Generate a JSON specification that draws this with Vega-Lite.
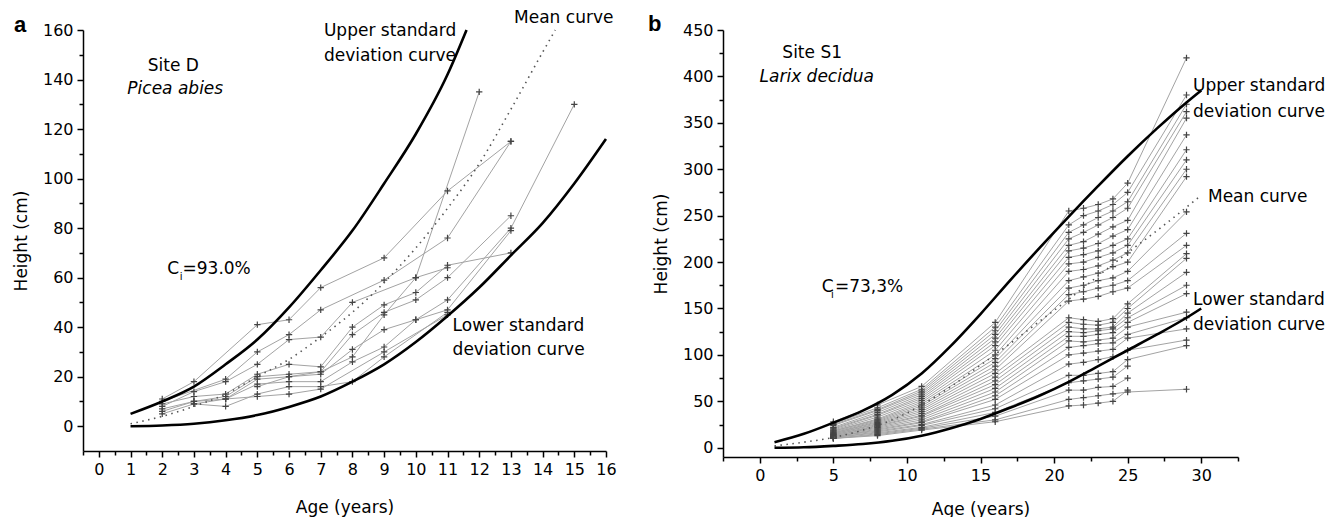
{
  "$schema": "https://vega.github.io/schema/vega-lite/v6.json",
  "background": "white",
  "padding": {"left": 12, "top": 9, "right": 0, "bottom": 0},
  "bounds": "flush",
  "spacing": 117,
  "config": {
    "view": {"stroke": null},
    "font": "DejaVu Sans",
    "axis": {
      "grid": false,
      "domainColor": "black",
      "domainWidth": 1.5,
      "tickColor": "black",
      "tickWidth": 1.5,
      "labelColor": "black",
      "titleColor": "black",
      "labelFont": "DejaVu Sans",
      "titleFont": "DejaVu Sans",
      "labelFontSize": 16,
      "titleFontSize": 17,
      "titleFontWeight": "normal",
      "labelOverlap": false,
      "labelFlush": false,
      "labelBound": false,
      "tickCount": 100
    }
  },
  "datasets": {
    "leftTrees": [
      {"t":"A","a":2,"h":11},{"t":"A","a":3,"h":18},{"t":"A","a":5,"h":41},{"t":"A","a":6,"h":43},{"t":"A","a":7,"h":56},{"t":"A","a":9,"h":68},{"t":"A","a":11,"h":95},{"t":"A","a":13,"h":115},
      {"t":"B","a":2,"h":10},{"t":"B","a":4,"h":19},{"t":"B","a":5,"h":30},{"t":"B","a":6,"h":37},{"t":"B","a":7,"h":47},{"t":"B","a":9,"h":59},{"t":"B","a":11,"h":76},{"t":"B","a":13,"h":115},
      {"t":"C","a":2,"h":8},{"t":"C","a":3,"h":14},{"t":"C","a":4,"h":18},{"t":"C","a":5,"h":25},{"t":"C","a":6,"h":35},{"t":"C","a":7,"h":36},{"t":"C","a":8,"h":50},{"t":"C","a":10,"h":60},{"t":"C","a":12,"h":135},
      {"t":"D","a":2,"h":9},{"t":"D","a":3,"h":12},{"t":"D","a":4,"h":13},{"t":"D","a":5,"h":21},{"t":"D","a":6,"h":25},{"t":"D","a":7,"h":24},{"t":"D","a":8,"h":40},{"t":"D","a":9,"h":49},{"t":"D","a":10,"h":54},{"t":"D","a":11,"h":65},{"t":"D","a":13,"h":70},
      {"t":"E","a":2,"h":7},{"t":"E","a":3,"h":10},{"t":"E","a":4,"h":12},{"t":"E","a":5,"h":20},{"t":"E","a":6,"h":21},{"t":"E","a":7,"h":22},{"t":"E","a":8,"h":37},{"t":"E","a":9,"h":46},{"t":"E","a":10,"h":51},{"t":"E","a":11,"h":60},{"t":"E","a":13,"h":85},
      {"t":"F","a":2,"h":6},{"t":"F","a":3,"h":10},{"t":"F","a":4,"h":11},{"t":"F","a":5,"h":19},{"t":"F","a":6,"h":20},{"t":"F","a":7,"h":21},{"t":"F","a":8,"h":31},{"t":"F","a":9,"h":39},{"t":"F","a":10,"h":43},{"t":"F","a":11,"h":51},{"t":"F","a":13,"h":80},{"t":"F","a":15,"h":130},
      {"t":"G","a":2,"h":5},{"t":"G","a":3,"h":9},{"t":"G","a":4,"h":11},{"t":"G","a":5,"h":17},{"t":"G","a":6,"h":18},{"t":"G","a":7,"h":18},{"t":"G","a":8,"h":26},{"t":"G","a":9,"h":32},{"t":"G","a":10,"h":43},{"t":"G","a":11,"h":47},{"t":"G","a":13,"h":79},
      {"t":"H","a":3,"h":9},{"t":"H","a":4,"h":8},{"t":"H","a":5,"h":13},{"t":"H","a":6,"h":16},{"t":"H","a":7,"h":16},{"t":"H","a":8,"h":18},{"t":"H","a":9,"h":28},{"t":"H","a":11,"h":46},
      {"t":"I","a":4,"h":11},{"t":"I","a":5,"h":12},{"t":"I","a":6,"h":13},{"t":"I","a":7,"h":15},{"t":"I","a":9,"h":30},{"t":"I","a":11,"h":45},
      {"t":"J","a":5,"h":16},{"t":"J","a":6,"h":20},{"t":"J","a":7,"h":22},{"t":"J","a":8,"h":28},{"t":"J","a":9,"h":45},{"t":"J","a":10,"h":60},{"t":"J","a":11,"h":64}
    ],
    "leftSD": [
      {"c":"u","a":1,"h":5},{"c":"u","a":2,"h":10},{"c":"u","a":3,"h":16},{"c":"u","a":4,"h":25},{"c":"u","a":5,"h":35},{"c":"u","a":6,"h":48},{"c":"u","a":7,"h":63},{"c":"u","a":8,"h":79},{"c":"u","a":9,"h":98},{"c":"u","a":10,"h":118},{"c":"u","a":11,"h":142},{"c":"u","a":11.6,"h":160},
      {"c":"l","a":1,"h":0},{"c":"l","a":2,"h":0.3},{"c":"l","a":3,"h":1},{"c":"l","a":4,"h":2.4},{"c":"l","a":5,"h":4.5},{"c":"l","a":6,"h":7.8},{"c":"l","a":7,"h":12},{"c":"l","a":8,"h":18},{"c":"l","a":9,"h":25},{"c":"l","a":10,"h":34},{"c":"l","a":11,"h":44.5},{"c":"l","a":12,"h":56},{"c":"l","a":13,"h":69},{"c":"l","a":14,"h":82},{"c":"l","a":15,"h":98},{"c":"l","a":16,"h":116}
    ],
    "leftMean": [
      {"a":1,"h":1},{"a":2,"h":4},{"a":3,"h":8},{"a":4,"h":13},{"a":5,"h":20},{"a":6,"h":27},{"a":7,"h":36},{"a":8,"h":46},{"a":9,"h":58},{"a":10,"h":72},{"a":11,"h":88},{"a":12,"h":106},{"a":13,"h":128},{"a":14,"h":151},{"a":14.4,"h":160}
    ],
    "rightTrees": [
      {"t":1,"a":5,"h":28},{"t":1,"a":8,"h":46},{"t":1,"a":11,"h":66},{"t":1,"a":16,"h":135},{"t":1,"a":21,"h":255},{"t":1,"a":22,"h":258},{"t":1,"a":23,"h":262},{"t":1,"a":24,"h":268},{"t":1,"a":25,"h":285},{"t":1,"a":29,"h":420},
      {"t":2,"a":5,"h":26},{"t":2,"a":8,"h":43},{"t":2,"a":11,"h":63},{"t":2,"a":16,"h":130},{"t":2,"a":21,"h":240},{"t":2,"a":22,"h":250},{"t":2,"a":23,"h":255},{"t":2,"a":24,"h":262},{"t":2,"a":25,"h":275},{"t":2,"a":29,"h":380},
      {"t":3,"a":5,"h":25},{"t":3,"a":8,"h":41},{"t":3,"a":11,"h":61},{"t":3,"a":16,"h":126},{"t":3,"a":21,"h":232},{"t":3,"a":22,"h":240},{"t":3,"a":23,"h":248},{"t":3,"a":24,"h":255},{"t":3,"a":25,"h":265},{"t":3,"a":29,"h":370},
      {"t":4,"a":5,"h":24},{"t":4,"a":8,"h":40},{"t":4,"a":11,"h":59},{"t":4,"a":16,"h":122},{"t":4,"a":21,"h":225},{"t":4,"a":22,"h":232},{"t":4,"a":23,"h":240},{"t":4,"a":24,"h":248},{"t":4,"a":25,"h":258},{"t":4,"a":29,"h":362},
      {"t":5,"a":5,"h":22},{"t":5,"a":8,"h":38},{"t":5,"a":11,"h":57},{"t":5,"a":16,"h":118},{"t":5,"a":21,"h":218},{"t":5,"a":22,"h":222},{"t":5,"a":23,"h":230},{"t":5,"a":24,"h":238},{"t":5,"a":25,"h":245},{"t":5,"a":29,"h":355},
      {"t":6,"a":5,"h":21},{"t":6,"a":8,"h":36},{"t":6,"a":11,"h":55},{"t":6,"a":16,"h":114},{"t":6,"a":21,"h":212},{"t":6,"a":22,"h":215},{"t":6,"a":23,"h":220},{"t":6,"a":24,"h":228},{"t":6,"a":25,"h":235},{"t":6,"a":29,"h":337},
      {"t":7,"a":5,"h":20},{"t":7,"a":8,"h":35},{"t":7,"a":11,"h":53},{"t":7,"a":16,"h":110},{"t":7,"a":21,"h":205},{"t":7,"a":22,"h":208},{"t":7,"a":23,"h":212},{"t":7,"a":24,"h":218},{"t":7,"a":25,"h":225},{"t":7,"a":29,"h":321},
      {"t":8,"a":5,"h":19},{"t":8,"a":8,"h":33},{"t":8,"a":11,"h":51},{"t":8,"a":16,"h":105},{"t":8,"a":21,"h":198},{"t":8,"a":22,"h":200},{"t":8,"a":23,"h":205},{"t":8,"a":24,"h":210},{"t":8,"a":25,"h":218},{"t":8,"a":29,"h":310},
      {"t":9,"a":5,"h":18},{"t":9,"a":8,"h":31},{"t":9,"a":11,"h":49},{"t":9,"a":16,"h":100},{"t":9,"a":21,"h":190},{"t":9,"a":22,"h":192},{"t":9,"a":23,"h":196},{"t":9,"a":24,"h":202},{"t":9,"a":25,"h":210},{"t":9,"a":29,"h":300},
      {"t":10,"a":5,"h":18},{"t":10,"a":8,"h":30},{"t":10,"a":11,"h":47},{"t":10,"a":16,"h":96},{"t":10,"a":21,"h":180},{"t":10,"a":22,"h":184},{"t":10,"a":23,"h":188},{"t":10,"a":24,"h":195},{"t":10,"a":25,"h":200},{"t":10,"a":29,"h":292},
      {"t":11,"a":5,"h":17},{"t":11,"a":8,"h":29},{"t":11,"a":11,"h":45},{"t":11,"a":16,"h":92},{"t":11,"a":21,"h":172},{"t":11,"a":22,"h":175},{"t":11,"a":23,"h":180},{"t":11,"a":24,"h":183},{"t":11,"a":25,"h":190},{"t":11,"a":29,"h":254},
      {"t":12,"a":5,"h":16},{"t":12,"a":8,"h":28},{"t":12,"a":11,"h":43},{"t":12,"a":16,"h":88},{"t":12,"a":21,"h":165},{"t":12,"a":22,"h":168},{"t":12,"a":23,"h":172},{"t":12,"a":24,"h":175},{"t":12,"a":25,"h":180},{"t":12,"a":29,"h":231},
      {"t":13,"a":5,"h":16},{"t":13,"a":8,"h":27},{"t":13,"a":11,"h":41},{"t":13,"a":16,"h":84},{"t":13,"a":21,"h":158},{"t":13,"a":22,"h":160},{"t":13,"a":23,"h":163},{"t":13,"a":24,"h":168},{"t":13,"a":25,"h":172},{"t":13,"a":29,"h":218},
      {"t":14,"a":5,"h":15},{"t":14,"a":8,"h":26},{"t":14,"a":11,"h":39},{"t":14,"a":16,"h":80},{"t":14,"a":21,"h":140},{"t":14,"a":22,"h":138},{"t":14,"a":23,"h":136},{"t":14,"a":24,"h":139},{"t":14,"a":25,"h":155},{"t":14,"a":29,"h":209},
      {"t":15,"a":5,"h":15},{"t":15,"a":8,"h":25},{"t":15,"a":11,"h":37},{"t":15,"a":16,"h":76},{"t":15,"a":21,"h":135},{"t":15,"a":22,"h":133},{"t":15,"a":23,"h":132},{"t":15,"a":24,"h":135},{"t":15,"a":25,"h":150},{"t":15,"a":29,"h":204},
      {"t":16,"a":5,"h":14},{"t":16,"a":8,"h":24},{"t":16,"a":11,"h":35},{"t":16,"a":16,"h":72},{"t":16,"a":21,"h":130},{"t":16,"a":22,"h":128},{"t":16,"a":23,"h":128},{"t":16,"a":24,"h":130},{"t":16,"a":25,"h":145},{"t":16,"a":29,"h":189},
      {"t":17,"a":5,"h":14},{"t":17,"a":8,"h":23},{"t":17,"a":11,"h":34},{"t":17,"a":16,"h":68},{"t":17,"a":21,"h":125},{"t":17,"a":22,"h":124},{"t":17,"a":23,"h":126},{"t":17,"a":24,"h":128},{"t":17,"a":25,"h":140},{"t":17,"a":29,"h":175},
      {"t":18,"a":5,"h":13},{"t":18,"a":8,"h":22},{"t":18,"a":11,"h":32},{"t":18,"a":16,"h":64},{"t":18,"a":21,"h":120},{"t":18,"a":22,"h":120},{"t":18,"a":23,"h":122},{"t":18,"a":24,"h":124},{"t":18,"a":25,"h":135},{"t":18,"a":29,"h":166},
      {"t":19,"a":5,"h":13},{"t":19,"a":8,"h":21},{"t":19,"a":11,"h":30},{"t":19,"a":16,"h":60},{"t":19,"a":21,"h":115},{"t":19,"a":22,"h":114},{"t":19,"a":23,"h":116},{"t":19,"a":24,"h":118},{"t":19,"a":25,"h":130},{"t":19,"a":29,"h":146},
      {"t":20,"a":5,"h":12},{"t":20,"a":8,"h":20},{"t":20,"a":11,"h":28},{"t":20,"a":16,"h":56},{"t":20,"a":21,"h":108},{"t":20,"a":22,"h":110},{"t":20,"a":23,"h":112},{"t":20,"a":24,"h":113},{"t":20,"a":25,"h":122},{"t":20,"a":29,"h":140},
      {"t":21,"a":5,"h":12},{"t":21,"a":8,"h":19},{"t":21,"a":11,"h":27},{"t":21,"a":16,"h":52},{"t":21,"a":21,"h":100},{"t":21,"a":22,"h":102},{"t":21,"a":23,"h":104},{"t":21,"a":24,"h":106},{"t":21,"a":25,"h":118},{"t":21,"a":29,"h":128},
      {"t":22,"a":5,"h":12},{"t":22,"a":8,"h":18},{"t":22,"a":11,"h":25},{"t":22,"a":16,"h":46},{"t":22,"a":21,"h":90},{"t":22,"a":22,"h":92},{"t":22,"a":23,"h":95},{"t":22,"a":24,"h":98},{"t":22,"a":25,"h":105},{"t":22,"a":29,"h":116},
      {"t":23,"a":5,"h":11},{"t":23,"a":8,"h":17},{"t":23,"a":11,"h":24},{"t":23,"a":16,"h":42},{"t":23,"a":21,"h":78},{"t":23,"a":22,"h":78},{"t":23,"a":23,"h":80},{"t":23,"a":24,"h":82},{"t":23,"a":25,"h":95},{"t":23,"a":29,"h":110},
      {"t":24,"a":5,"h":11},{"t":24,"a":8,"h":16},{"t":24,"a":11,"h":22},{"t":24,"a":16,"h":38},{"t":24,"a":21,"h":70},{"t":24,"a":22,"h":72},{"t":24,"a":23,"h":74},{"t":24,"a":24,"h":76},{"t":24,"a":25,"h":88},
      {"t":25,"a":5,"h":10},{"t":25,"a":8,"h":15},{"t":25,"a":11,"h":21},{"t":25,"a":16,"h":34},{"t":25,"a":21,"h":62},{"t":25,"a":22,"h":62},{"t":25,"a":23,"h":65},{"t":25,"a":24,"h":66},{"t":25,"a":25,"h":75},
      {"t":26,"a":5,"h":10},{"t":26,"a":8,"h":14},{"t":26,"a":11,"h":20},{"t":26,"a":16,"h":30},{"t":26,"a":21,"h":52},{"t":26,"a":22,"h":54},{"t":26,"a":23,"h":56},{"t":26,"a":24,"h":58},{"t":26,"a":25,"h":60},{"t":26,"a":29,"h":63},
      {"t":27,"a":5,"h":10},{"t":27,"a":8,"h":13},{"t":27,"a":11,"h":19},{"t":27,"a":16,"h":28},{"t":27,"a":21,"h":45},{"t":27,"a":22,"h":46},{"t":27,"a":23,"h":48},{"t":27,"a":24,"h":50},{"t":27,"a":25,"h":62}
    ],
    "rightSD": [
      {"c":"u","a":1,"h":6},{"c":"u","a":3,"h":15},{"c":"u","a":5,"h":27},{"c":"u","a":7,"h":40},{"c":"u","a":9,"h":57},{"c":"u","a":11,"h":80},{"c":"u","a":13,"h":110},{"c":"u","a":15,"h":144},{"c":"u","a":17,"h":180},{"c":"u","a":19,"h":215},{"c":"u","a":21,"h":249},{"c":"u","a":23,"h":282},{"c":"u","a":25,"h":314},{"c":"u","a":27,"h":344},{"c":"u","a":29,"h":372},{"c":"u","a":30,"h":385},
      {"c":"l","a":1,"h":0},{"c":"l","a":3,"h":0.5},{"c":"l","a":5,"h":2},{"c":"l","a":7,"h":4},{"c":"l","a":9,"h":7.5},{"c":"l","a":11,"h":13},{"c":"l","a":13,"h":21},{"c":"l","a":15,"h":31},{"c":"l","a":17,"h":43},{"c":"l","a":19,"h":56},{"c":"l","a":21,"h":71},{"c":"l","a":23,"h":88},{"c":"l","a":25,"h":105},{"c":"l","a":27,"h":122},{"c":"l","a":29,"h":140},{"c":"l","a":30,"h":150}
    ],
    "rightMean": [
      {"a":1,"h":2},{"a":3,"h":6},{"a":5,"h":11},{"a":7,"h":19},{"a":9,"h":30},{"a":11,"h":46},{"a":13,"h":66},{"a":15,"h":89},{"a":17,"h":112},{"a":19,"h":136},{"a":21,"h":160},{"a":23,"h":185},{"a":25,"h":210},{"a":27,"h":234},{"a":29,"h":259},{"a":30,"h":272}
    ]
  },
  "hconcat": [
    {
      "width": 523,
      "height": 421,
      "layer": [
        {
          "data": {"name": "leftTrees"},
          "mark": {"type": "line", "color": "#a3a3a3", "strokeWidth": 1},
          "encoding": {
            "x": {"field": "a", "type": "quantitative",
              "scale": {"domain": [-0.5, 16], "nice": false, "zero": false},
              "axis": {"title": "Age (years)",
                "values": [-0.5,0,0.5,1,1.5,2,2.5,3,3.5,4,4.5,5,5.5,6,6.5,7,7.5,8,8.5,9,9.5,10,10.5,11,11.5,12,12.5,13,13.5,14,14.5,15,15.5,16],
                "labelExpr": "datum.value % 1 === 0 ? format(datum.value, 'd') : ''",
                "tickSize": {"condition": {"test": "datum.value % 1 === 0", "value": 6}, "value": 4},
                "tickCount": 100,
                "labelPadding": 4, "titlePadding": 22}},
            "y": {"field": "h", "type": "quantitative",
              "scale": {"domain": [-10, 160], "nice": false, "zero": false},
              "axis": {"title": "Height (cm)",
                "values": [0,10,20,30,40,50,60,70,80,90,100,110,120,130,140,150,160],
                "labelExpr": "datum.value % 20 === 0 ? datum.label : ''",
                "tickSize": {"condition": {"test": "datum.value % 20 === 0", "value": 6}, "value": 4},
                "tickCount": 100,
                "labelPadding": 4, "titlePadding": 12}},
            "detail": {"field": "t"}
          }
        },
        {
          "data": {"name": "leftTrees"},
          "mark": {"type": "point", "shape": "M-1,0L1,0M0,-1L0,1", "filled": false, "color": "#444444", "size": 40, "strokeWidth": 1.2, "opacity": 1},
          "encoding": {
            "x": {"field": "a", "type": "quantitative"},
            "y": {"field": "h", "type": "quantitative"}
          }
        },
        {
          "data": {"name": "leftMean"},
          "mark": {"type": "line", "color": "#555555", "strokeWidth": 1.6, "strokeDash": [1.5, 4.5], "interpolate": "monotone"},
          "encoding": {
            "x": {"field": "a", "type": "quantitative"},
            "y": {"field": "h", "type": "quantitative"}
          }
        },
        {
          "data": {"name": "leftSD"},
          "mark": {"type": "line", "color": "black", "strokeWidth": 2.6, "interpolate": "monotone"},
          "encoding": {
            "x": {"field": "a", "type": "quantitative"},
            "y": {"field": "h", "type": "quantitative"},
            "detail": {"field": "c"}
          }
        },
        {
          "data": {"values": [{"txt": "a", "a": -2.68, "h": 159.2}]},
          "mark": {"type": "text", "font": "Liberation Sans", "fontWeight": "bold", "fontSize": 22, "align": "left", "baseline": "alphabetic", "color": "black"},
          "encoding": {
            "x": {"field": "a", "type": "quantitative"},
            "y": {"field": "h", "type": "quantitative"},
            "text": {"field": "txt"}
          }
        },
        {
          "data": {"values": [{"txt": "Site D", "a": 2.35, "h": 143.6}]},
          "mark": {"type": "text", "fontSize": 17, "align": "center", "baseline": "alphabetic", "color": "black"},
          "encoding": {
            "x": {"field": "a", "type": "quantitative"},
            "y": {"field": "h", "type": "quantitative"},
            "text": {"field": "txt"}
          }
        },
        {
          "data": {"values": [{"txt": "Picea abies", "a": 2.41, "h": 134.3}]},
          "mark": {"type": "text", "fontSize": 17, "fontStyle": "italic", "align": "center", "baseline": "alphabetic", "color": "black"},
          "encoding": {
            "x": {"field": "a", "type": "quantitative"},
            "y": {"field": "h", "type": "quantitative"},
            "text": {"field": "txt"}
          }
        },
        {
          "data": {"values": [
            {"txt": "Upper standard", "a": 7.1, "h": 157.4},
            {"txt": "deviation curve", "a": 7.1, "h": 147.6},
            {"txt": "Mean curve", "a": 13.1, "h": 162.8},
            {"txt": "Lower standard", "a": 11.16, "h": 38.5},
            {"txt": "deviation curve", "a": 11.16, "h": 28.7},
            {"txt": "C", "a": 2.16, "h": 61.4},
            {"txt": "=93.0%", "a": 2.64, "h": 61.4}
          ]},
          "mark": {"type": "text", "fontSize": 17, "align": "left", "baseline": "alphabetic", "color": "black"},
          "encoding": {
            "x": {"field": "a", "type": "quantitative"},
            "y": {"field": "h", "type": "quantitative"},
            "text": {"field": "txt"}
          }
        },
        {
          "data": {"values": [{"txt": "i", "a": 2.55, "h": 59.2}]},
          "mark": {"type": "text", "fontSize": 10, "align": "left", "baseline": "alphabetic", "color": "black"},
          "encoding": {
            "x": {"field": "a", "type": "quantitative"},
            "y": {"field": "h", "type": "quantitative"},
            "text": {"field": "txt"}
          }
        }
      ]
    },
    {
      "width": 515,
      "height": 427,
      "layer": [
        {
          "data": {"name": "rightTrees"},
          "mark": {"type": "line", "color": "#a3a3a3", "strokeWidth": 1},
          "encoding": {
            "x": {"field": "a", "type": "quantitative",
              "scale": {"domain": [-2.5, 32.5], "nice": false, "zero": false},
              "axis": {"title": "Age (years)",
                "values": [-2.5,0,2.5,5,7.5,10,12.5,15,17.5,20,22.5,25,27.5,30,32.5],
                "labelExpr": "datum.value % 5 === 0 ? format(datum.value, 'd') : ''",
                "tickSize": {"condition": {"test": "datum.value % 5 === 0", "value": 6}, "value": 4},
                "tickCount": 100,
                "labelPadding": 4, "titlePadding": 18}},
            "y": {"field": "h", "type": "quantitative",
              "scale": {"domain": [-10, 450], "nice": false, "zero": false},
              "axis": {"title": "Height (cm)",
                "values": [0,25,50,75,100,125,150,175,200,225,250,275,300,325,350,375,400,425,450],
                "labelExpr": "datum.value % 50 === 0 ? datum.label : ''",
                "tickSize": {"condition": {"test": "datum.value % 50 === 0", "value": 6}, "value": 4},
                "tickCount": 100,
                "labelPadding": 4, "titlePadding": 12}},
            "detail": {"field": "t"}
          }
        },
        {
          "data": {"name": "rightTrees"},
          "mark": {"type": "point", "shape": "M-1,0L1,0M0,-1L0,1", "filled": false, "color": "#444444", "size": 40, "strokeWidth": 1.2, "opacity": 1},
          "encoding": {
            "x": {"field": "a", "type": "quantitative"},
            "y": {"field": "h", "type": "quantitative"}
          }
        },
        {
          "data": {"name": "rightMean"},
          "mark": {"type": "line", "color": "#555555", "strokeWidth": 1.6, "strokeDash": [1.5, 4.5], "interpolate": "monotone"},
          "encoding": {
            "x": {"field": "a", "type": "quantitative"},
            "y": {"field": "h", "type": "quantitative"}
          }
        },
        {
          "data": {"name": "rightSD"},
          "mark": {"type": "line", "color": "black", "strokeWidth": 2.6, "interpolate": "monotone"},
          "encoding": {
            "x": {"field": "a", "type": "quantitative"},
            "y": {"field": "h", "type": "quantitative"},
            "detail": {"field": "c"}
          }
        },
        {
          "data": {"values": [{"txt": "b", "a": -7.6, "h": 448.8}]},
          "mark": {"type": "text", "font": "Liberation Sans", "fontWeight": "bold", "fontSize": 22, "align": "left", "baseline": "alphabetic", "color": "black"},
          "encoding": {
            "x": {"field": "a", "type": "quantitative"},
            "y": {"field": "h", "type": "quantitative"},
            "text": {"field": "txt"}
          }
        },
        {
          "data": {"values": [{"txt": "Site S1", "a": 3.56, "h": 419.6}]},
          "mark": {"type": "text", "fontSize": 17, "align": "center", "baseline": "alphabetic", "color": "black"},
          "encoding": {
            "x": {"field": "a", "type": "quantitative"},
            "y": {"field": "h", "type": "quantitative"},
            "text": {"field": "txt"}
          }
        },
        {
          "data": {"values": [{"txt": "Larix decidua", "a": 3.87, "h": 394.5}]},
          "mark": {"type": "text", "fontSize": 17, "fontStyle": "italic", "align": "center", "baseline": "alphabetic", "color": "black"},
          "encoding": {
            "x": {"field": "a", "type": "quantitative"},
            "y": {"field": "h", "type": "quantitative"},
            "text": {"field": "txt"}
          }
        },
        {
          "data": {"values": [
            {"txt": "Upper standard", "a": 29.44, "h": 384.4},
            {"txt": "deviation curve", "a": 29.44, "h": 356.7},
            {"txt": "Mean curve", "a": 30.46, "h": 265},
            {"txt": "Lower standard", "a": 29.44, "h": 153.5},
            {"txt": "deviation curve", "a": 29.44, "h": 126.5},
            {"txt": "C", "a": 4.21, "h": 168},
            {"txt": "=73,3%", "a": 5.11, "h": 168}
          ]},
          "mark": {"type": "text", "fontSize": 17, "align": "left", "baseline": "alphabetic", "color": "black"},
          "encoding": {
            "x": {"field": "a", "type": "quantitative"},
            "y": {"field": "h", "type": "quantitative"},
            "text": {"field": "txt"}
          }
        },
        {
          "data": {"values": [{"txt": "i", "a": 4.84, "h": 161.5}]},
          "mark": {"type": "text", "fontSize": 10, "align": "left", "baseline": "alphabetic", "color": "black"},
          "encoding": {
            "x": {"field": "a", "type": "quantitative"},
            "y": {"field": "h", "type": "quantitative"},
            "text": {"field": "txt"}
          }
        }
      ]
    }
  ]
}
